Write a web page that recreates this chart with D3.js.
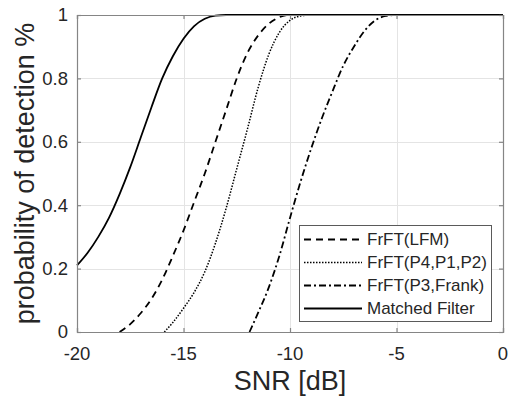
<!DOCTYPE html>
<html lang="en">
<head>
    <meta charset="UTF-8">
    <title>Probability of detection vs SNR</title>
    <script src="https://d3js.org/d3.v7.min.js"></script>
    <style>
        body {
            margin: 0;
            background: #fff;
            font-family: "Liberation Sans", Arial, sans-serif;
        }
        .grid line { stroke: #e4e4e4; stroke-width: 1; shape-rendering: crispEdges; }
        .tick-label { font-size: 18.5px; fill: #262626; }
        .axis-title { font-size: 27px; fill: #262626; }
        .legend text { font-size: 17px; fill: #262626; }
    </style>
</head>
<body>
    <div id="chart"></div>

    <script>
        // Values
        const xTicks = [-20, -15, -10, -5, 0];
        const yTicks = [0, 0.2, 0.4, 0.6, 0.8, 1];
        const yTickLabels = ["0", "0.2", "0.4", "0.6", "0.8", "1"];

        const seriesNames = ["FrFT(LFM)", "FrFT(P4,P1,P2)", "FrFT(P3,Frank)", "Matched Filter"];

        // SNR [dB] and Pd for each curve
        const lfmSnr = [-18, -17.5, -17, -16.5, -16, -15.5, -15, -14.5, -14, -13.5, -13, -12.5, -12, -11.5, -11, -10.5, -10, 0];
        const lfmPd  = [0, 0.025, 0.06, 0.105, 0.165, 0.24, 0.32, 0.41, 0.5, 0.6, 0.7, 0.8, 0.88, 0.935, 0.972, 0.993, 1, 1];

        const p4Snr = [-15.9, -15.5, -15, -14.5, -14, -13.5, -13, -12.5, -12, -11.5, -11, -10.5, -10, -9.5, -9, 0];
        const p4Pd  = [0, 0.03, 0.075, 0.125, 0.19, 0.28, 0.39, 0.515, 0.64, 0.77, 0.875, 0.945, 0.983, 0.997, 1, 1];

        const p3Snr = [-11.9, -11.5, -11, -10.5, -10, -9.5, -9, -8.5, -8, -7.5, -7, -6.5, -6, -5.5, -5, 0];
        const p3Pd  = [0, 0.06, 0.14, 0.24, 0.36, 0.475, 0.58, 0.675, 0.76, 0.84, 0.9, 0.95, 0.983, 0.997, 1, 1];

        const mfSnr = [-20, -19.5, -19, -18.5, -18, -17.5, -17, -16.5, -16, -15.5, -15, -14.5, -14, -13.5, -13, 0];
        const mfPd  = [0.21, 0.25, 0.3, 0.36, 0.435, 0.52, 0.615, 0.71, 0.8, 0.87, 0.925, 0.965, 0.988, 0.998, 1, 1];

        const width = 508, height = 399;
        const margin = { top: 15, right: 5, bottom: 67, left: 77 };
        const plotW = width - margin.left - margin.right;
        const plotH = height - margin.top - margin.bottom;

        const svg = d3.select("#chart").append("svg")
            .attr("width", width)
            .attr("height", height);

        const g = svg.append("g")
            .attr("transform", `translate(${margin.left},${margin.top})`);

        const x = d3.scaleLinear().domain([-20, 0]).range([0, plotW]);
        const y = d3.scaleLinear().domain([0, 1]).range([plotH, 0]);

        // grid
        const grid = g.append("g").attr("class", "grid");
        grid.selectAll(".gx").data(xTicks.slice(1, -1)).enter().append("line")
            .attr("x1", d => Math.round(x(d)) + 0.5).attr("x2", d => Math.round(x(d)) + 0.5)
            .attr("y1", 0).attr("y2", plotH);
        grid.selectAll(".gy").data(yTicks.slice(1, -1)).enter().append("line")
            .attr("y1", d => Math.round(y(d)) + 0.5).attr("y2", d => Math.round(y(d)) + 0.5)
            .attr("x1", 0).attr("x2", plotW);

        // curves
        const styles = [
            { snr: lfmSnr, pd: lfmPd, dash: "7,5", w: 1.8 },
            { snr: p4Snr, pd: p4Pd, dash: "1.5,1.5", w: 1.5 },
            { snr: p3Snr, pd: p3Pd, dash: "7,3,2,3", w: 1.8 },
            { snr: mfSnr, pd: mfPd, dash: null, w: 1.8 }
        ];

        const line = d3.line()
            .x(d => x(d[0]))
            .y(d => y(d[1]))
            .curve(d3.curveMonotoneX);

        styles.forEach(s => {
            const pts = s.snr.map((v, i) => [v, s.pd[i]]);
            g.append("path")
                .datum(pts)
                .attr("fill", "none")
                .attr("stroke", "#000")
                .attr("stroke-width", s.w)
                .attr("stroke-dasharray", s.dash)
                .attr("d", line);
        });

        // axes box and ticks (drawn over curves)
        const axisColor = "#858585";
        const yAxisL = d3.axisLeft(y).tickValues(yTicks).tickSize(-4).tickFormat("");
        const yAxisR = d3.axisRight(y).tickValues(yTicks).tickSize(-4).tickFormat("");
        const xAxisB = d3.axisBottom(x).tickValues(xTicks).tickSize(-4).tickFormat("");
        const xAxisT = d3.axisTop(x).tickValues(xTicks).tickSize(-4).tickFormat("");

        [[yAxisL, "translate(0,0)"], [yAxisR, `translate(${plotW},0)`],
         [xAxisB, `translate(0,${plotH})`], [xAxisT, "translate(0,0)"]].forEach(([ax, tr]) => {
            const a = g.append("g").attr("transform", tr).call(ax);
            a.selectAll("path, line").attr("stroke", axisColor).attr("stroke-width", 1.2);
        });

        // tick labels
        g.selectAll(".ylab").data(yTicks).enter().append("text")
            .attr("class", "tick-label")
            .attr("x", -9)
            .attr("y", d => y(d))
            .attr("dy", "0.35em")
            .attr("text-anchor", "end")
            .text((d, i) => yTickLabels[i]);

        g.selectAll(".xlab").data(xTicks).enter().append("text")
            .attr("class", "tick-label")
            .attr("x", d => x(d))
            .attr("y", plotH + 22)
            .attr("dy", "0.35em")
            .attr("text-anchor", "middle")
            .text(d => d);

        // axis titles
        svg.append("text")
            .attr("class", "axis-title")
            .attr("x", margin.left + plotW / 2)
            .attr("y", 390)
            .attr("text-anchor", "middle")
            .text("SNR [dB]");

        svg.append("text")
            .attr("class", "axis-title")
            .attr("transform", `translate(25,${margin.top + plotH / 2}) rotate(-90)`)
            .attr("dy", "0.35em")
            .attr("text-anchor", "middle")
            .text("probability of detection %");

        // legend
        const legend = svg.append("g").attr("class", "legend");
        legend.append("rect")
            .attr("x", 299.5).attr("y", 225.5)
            .attr("width", 192).attr("height", 96)
            .attr("fill", "#fff")
            .attr("stroke", "#5a5a5a")
            .attr("stroke-width", 1);

        seriesNames.forEach((name, i) => {
            const ly = 239.5 + i * 23;
            legend.append("line")
                .attr("x1", 304).attr("x2", 362)
                .attr("y1", ly).attr("y2", ly)
                .attr("stroke", "#000")
                .attr("stroke-width", styles[i].w)
                .attr("stroke-dasharray", styles[i].dash);
            legend.append("text")
                .attr("x", 367)
                .attr("y", ly)
                .attr("dy", "0.35em")
                .text(name);
        });
    </script>
</body>
</html>
